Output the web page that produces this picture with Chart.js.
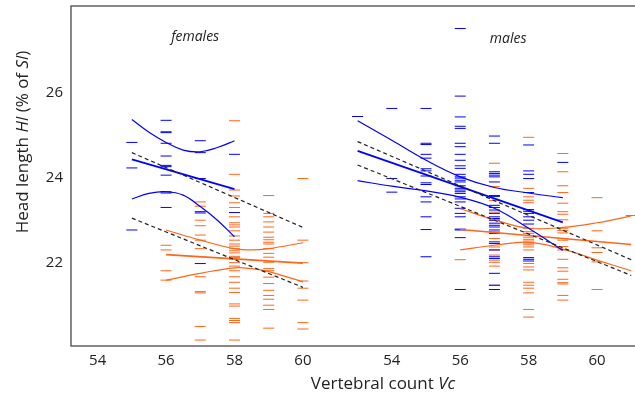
<!DOCTYPE html>
<html lang="en">
<head>
<meta charset="UTF-8">
<title>Head length and vertebral count</title>
<script src="https://cdn.jsdelivr.net/npm/chart.js"></script>
<style>
    * {
    margin: 0;
    padding: 0;
    box-sizing: border-box;
    }

    html, body {
    width: 635px;
    height: 401px;
    background: #fff;
    overflow: hidden;
    }
</style>
</head>
<body>
<canvas id="chart" width="635" height="401"></canvas>

<script>
    // males are plotted right of the females on one x axis, shifted by this much
    const MALE_SHIFT = 8.6;

    const yTicks = [22, 24, 26];
    const xTicks = [54, 56, 58, 60];

    // Hl values per vertebral count, population A (blue) and B (orange)
    const femaleVc = [55, 56, 57, 58, 59, 60];
    const femaleHlA = [
        [24.84, 24.24, 22.78],
        [25.36, 25.09, 25.07, 24.82, 24.52, 24.30, 24.27, 24.07, 23.68, 23.65, 23.31],
        [24.88, 24.60, 23.99, 23.21, 23.18, 21.99],
        [24.56, 23.19],
        [],
        []
    ];
    const femaleHlB = [
        [],
        [22.42, 22.31, 21.82, 21.60],
        [23.44, 23.34, 23.01, 22.88, 22.66, 22.54, 22.34, 21.68, 21.33, 21.30, 20.51, 20.19],
        [25.35, 24.09, 23.72, 23.58, 23.42, 23.31, 23.09, 22.95, 22.90, 22.85, 22.76, 22.64, 22.54, 22.45,
         22.40, 22.34, 22.29, 22.24, 22.16, 22.13, 22.09, 22.01, 21.93, 21.82, 21.68, 21.55, 21.41, 21.31,
         21.04, 20.99, 20.70, 20.65, 20.60, 20.19],
        [23.59, 23.17, 23.09, 22.97, 22.85, 22.73, 22.61, 22.55, 22.49, 22.45, 22.34, 22.23, 22.14, 22.02,
         21.87, 21.82, 21.67, 21.52, 21.36, 21.24, 21.15, 21.01, 20.91, 20.47],
        [23.99, 22.54, 22.01, 21.58, 21.41, 21.13, 20.60, 20.45]
    ];

    const maleVc = [53, 54, 55, 56, 57, 58, 59, 60, 61];
    const maleHlA = [
        [25.45],
        [25.64, 23.99, 23.67],
        [25.64, 24.82, 24.79, 24.56, 24.47, 24.22, 24.17, 24.05, 23.89, 23.85, 23.56, 23.44, 23.09, 22.79, 22.15],
        [27.52, 25.93, 25.44, 25.22, 25.17, 24.82, 24.74, 24.56, 24.42, 24.29, 24.23, 24.09, 24.03, 24.00,
         23.95, 23.91, 23.82, 23.76, 23.72, 23.68, 23.64, 23.56, 23.51, 23.44, 23.29, 23.17, 23.09, 22.80,
         22.78, 22.60, 21.38],
        [24.99, 24.82, 24.15, 24.11, 24.07, 24.03, 23.91, 23.59, 23.57, 23.36, 23.31, 23.25, 23.17, 23.09,
         23.05, 23.01, 22.94, 22.89, 22.85, 22.78, 22.70, 22.50, 22.46, 22.31, 22.15, 22.11, 21.76, 21.48, 21.38],
        [24.78, 24.17, 24.09, 23.99, 23.66, 23.26, 23.22, 23.17, 23.09, 23.01, 22.92, 22.13, 22.09, 22.05],
        [24.37],
        [],
        []
    ];
    const maleHlB = [
        [],
        [],
        [],
        [22.08],
        [24.35, 23.80, 23.47, 23.20, 23.01, 22.74, 22.58, 22.38, 22.31, 22.19, 22.07, 22.02, 21.93, 21.48],
        [24.96, 23.76, 23.56, 23.48, 23.42, 22.82, 22.74, 22.70, 22.61, 22.56, 22.52, 22.47, 22.43, 22.38,
         22.31, 21.99, 21.91, 21.84, 21.55, 21.48, 21.41, 21.30, 20.91, 20.73],
        [24.58, 24.15, 23.82, 23.66, 23.41, 23.21, 23.15, 23.02, 22.82, 22.77, 22.71, 22.58, 22.54, 22.39,
         22.31, 22.09, 21.89, 21.81, 21.62, 21.54, 21.51, 21.24, 21.13],
        [23.54, 22.76, 22.36, 22.25, 22.03, 21.38],
        [23.12]
    ];

    // regression lines, their confidence bands, and the dashed pair, as [Vc, Hl]
    const femaleFitA = [[55, 24.44], [58, 23.74]];
    const femaleUpA = [[55, 25.38], [55.5, 25.08], [56, 24.84], [56.5, 24.66], [57, 24.62], [57.5, 24.72], [58, 24.88]];
    const femaleLowA = [[55, 23.51], [55.5, 23.64], [56, 23.68], [56.5, 23.60], [57, 23.33], [57.5, 23.01], [58, 22.62]];
    const femaleFitB = [[56, 22.20], [60, 22.00]];
    const femaleUpB = [[56, 22.78], [57, 22.54], [58, 22.34], [58.5, 22.31], [59, 22.34], [60, 22.48]];
    const femaleLowB = [[56, 21.60], [57, 21.76], [58, 21.89], [58.5, 21.87], [59, 21.80], [60, 21.56]];
    const femaleDashHi = [[55, 24.60], [60, 22.84]];
    const femaleDashLo = [[55, 23.06], [60, 21.43]];

    const maleFitA = [[53, 24.64], [59, 22.96]];
    const maleUpA = [[53, 25.35], [54, 24.89], [55, 24.42], [56, 24.03], [57, 23.78], [58, 23.65], [59, 23.54]];
    const maleLowA = [[53, 23.94], [54, 23.81], [55, 23.70], [56, 23.55], [57, 23.29], [58, 22.82], [59, 22.30]];
    const maleFitB = [[56, 22.79], [61, 22.44]];
    const maleUpB = [[56, 23.28], [57, 23.02], [58, 22.82], [59, 22.84], [60, 22.95], [61, 23.11]];
    const maleLowB = [[56, 22.31], [57, 22.42], [58, 22.49], [59, 22.33], [60, 22.07], [61, 21.82]];
    const maleDashHi = [[53, 24.86], [61, 22.08]];
    const maleDashLo = [[53, 24.31], [61, 21.71]];

    const BLUE = 'rgb(0, 0, 255)';
    const ORANGE = 'rgb(255, 102, 26)';
    const FONT = "'Open Sans', sans-serif";

    function dashes(vcs, rows, shift, color) {
        let pts = [];
        vcs.forEach((vc, i) => {
            rows[i].forEach(hl => pts.push({ x: vc + shift, y: hl }));
        });
        return {
            data: pts,
            showLine: false,
            pointStyle: 'line',
            pointRadius: 5.5,
            pointBorderWidth: 1,
            pointBorderColor: color,
            pointBackgroundColor: color,
            order: 3
        };
    }

    function curve(pts, shift, color, width, dash) {
        return {
            data: pts.map(p => ({ x: p[0] + shift, y: p[1] })),
            showLine: true,
            borderColor: color,
            borderWidth: width,
            borderDash: dash || [],
            pointRadius: 0,
            tension: pts.length > 2 ? 0.4 : 0,
            order: dash ? 0 : 1
        };
    }

    // writes a run of plain/italic pieces centred on (cx, cy)
    function mixedText(ctx, parts, cx, cy, size) {
        let widths = parts.map(p => {
            ctx.font = (p[1] ? 'italic ' : '') + size + 'px ' + FONT;
            return ctx.measureText(p[0]).width;
        });
        let total = widths.reduce((a, b) => a + b, 0);
        let x = cx - total / 2;
        parts.forEach((p, i) => {
            ctx.font = (p[1] ? 'italic ' : '') + size + 'px ' + FONT;
            ctx.fillText(p[0], x, cy);
            x += widths[i];
        });
    }

    const frame = {
        id: 'frame',
        afterDraw(chart) {
            const ctx = chart.ctx;
            const a = chart.chartArea;
            const xs = chart.scales.x, ys = chart.scales.y;
            ctx.save();
            ctx.strokeStyle = '#606060';
            ctx.lineWidth = 1.5;
            ctx.beginPath();
            ctx.moveTo(a.right, a.top);
            ctx.lineTo(a.left, a.top);
            ctx.lineTo(a.left, a.bottom);
            ctx.lineTo(a.right, a.bottom);
            ctx.stroke();

            ctx.fillStyle = '#222';
            ctx.textBaseline = 'middle';
            ctx.textAlign = 'left';
            mixedText(ctx, [['females', true]], xs.getPixelForValue(56.85), ys.getPixelForValue(27.32), 14);
            mixedText(ctx, [['males', true]], xs.getPixelForValue(57.4 + MALE_SHIFT), ys.getPixelForValue(27.28), 14);

            mixedText(ctx, [['Vertebral count ', false], ['Vc', true]], 383, 384, 17);

            ctx.translate(23, 142);
            ctx.rotate(-Math.PI / 2);
            mixedText(ctx, [['Head length ', false], ['Hl', true], [' (% of ', false], ['Sl', true], [')', false]], 0, 0, 17);
            ctx.restore();
        }
    };

    const datasets = [
        curve(femaleDashHi, 0, '#222', 1.2, [4, 3]),
        curve(femaleDashLo, 0, '#222', 1.2, [4, 3]),
        curve(maleDashHi, MALE_SHIFT, '#222', 1.2, [4, 3]),
        curve(maleDashLo, MALE_SHIFT, '#222', 1.2, [4, 3]),
        curve(femaleFitA, 0, BLUE, 1.8),
        curve(femaleUpA, 0, BLUE, 1.2),
        curve(femaleLowA, 0, BLUE, 1.2),
        curve(femaleFitB, 0, ORANGE, 1.6),
        curve(femaleUpB, 0, ORANGE, 1.2),
        curve(femaleLowB, 0, ORANGE, 1.2),
        curve(maleFitA, MALE_SHIFT, BLUE, 1.8),
        curve(maleUpA, MALE_SHIFT, BLUE, 1.2),
        curve(maleLowA, MALE_SHIFT, BLUE, 1.2),
        curve(maleFitB, MALE_SHIFT, ORANGE, 1.6),
        curve(maleUpB, MALE_SHIFT, ORANGE, 1.2),
        curve(maleLowB, MALE_SHIFT, ORANGE, 1.2),
        dashes(femaleVc, femaleHlA, 0, BLUE),
        dashes(femaleVc, femaleHlB, 0, ORANGE),
        dashes(maleVc, maleHlA, MALE_SHIFT, BLUE),
        dashes(maleVc, maleHlB, MALE_SHIFT, ORANGE)
    ];

    new Chart(document.getElementById('chart'), {
        type: 'scatter',
        data: { datasets: datasets },
        options: {
            responsive: false,
            animation: false,
            events: [],
            layout: {
                autoPadding: false,
                padding: { top: 6, right: 0, left: 0, bottom: 0 }
            },
            plugins: {
                legend: { display: false },
                tooltip: { enabled: false }
            },
            scales: {
                x: {
                    type: 'linear',
                    min: 53.22,
                    max: 69.71,
                    grid: { display: false, drawTicks: false },
                    border: { display: false },
                    afterFit: s => {
                        s.height = 55;
                        s.paddingLeft = 0;
                        s.paddingRight = 0;
                    },
                    afterBuildTicks: s => {
                        s.ticks = xTicks.concat(xTicks.map(v => v + MALE_SHIFT)).map(v => ({ value: v }));
                    },
                    ticks: {
                        padding: 6,
                        color: '#222',
                        font: { family: FONT, size: 15 },
                        callback: v => String(Math.round(v > 61 ? v - MALE_SHIFT : v))
                    }
                },
                y: {
                    min: 20.05,
                    max: 28.05,
                    grid: { display: false, drawTicks: false },
                    border: { display: false },
                    afterFit: s => {
                        s.width = 71;
                        s.paddingTop = 0;
                        s.paddingBottom = 0;
                    },
                    afterBuildTicks: s => {
                        s.ticks = yTicks.map(v => ({ value: v }));
                    },
                    ticks: {
                        padding: 8,
                        color: '#222',
                        font: { family: FONT, size: 15 }
                    }
                }
            }
        },
        plugins: [frame]
    });
</script>
</body>
</html>
